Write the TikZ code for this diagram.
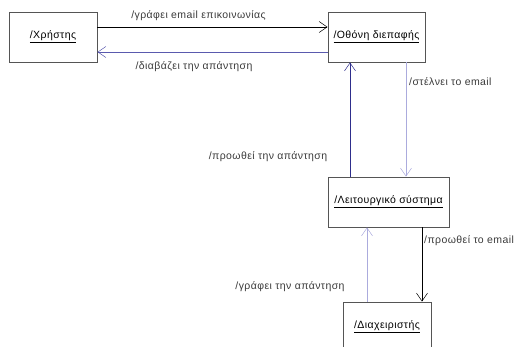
\documentclass[tikz,border=0pt]{standalone}
\usepackage{fontspec}
\setmainfont{Liberation Sans}[LetterSpace=4]
\usetikzlibrary{arrows.meta,shadows}
\definecolor{edgegray}{HTML}{555555}
\definecolor{msgblue}{HTML}{5A5AAE}
\definecolor{darkblue}{HTML}{2E2E8C}
\definecolor{paleblue}{HTML}{ABABDD}
\definecolor{labelgray}{HTML}{3A3A3A}
\tikzset{
  objbox/.style={draw=edgegray, line width=0.9pt, fill=white, inner sep=0pt,
    drop shadow={shadow xshift=1.2pt, shadow yshift=-1.2pt, fill=gray!45, opacity=1},
    font=\fontsize{10.5}{12}\selectfont},
  msg/.style={line width=0.7pt, -{Straight Barb[length=8pt,width=11pt,line width=0.5pt]}},
  lbl/.style={text=labelgray, inner sep=0pt, font=\fontsize{10.5}{12}\selectfont}
}
\begin{document}
\begin{tikzpicture}[x=1pt,y=-1pt]
  \useasboundingbox (0,0) rectangle (517,346);

  % objects
  \node[objbox, minimum width=88pt, minimum height=50pt] (user) at (53,37) {\underline{/Χρήστης}};
  \node[objbox, minimum width=97pt, minimum height=50pt] (screen) at (376.5,37) {\underline{/Οθόνη διεπαφής}};
  \node[objbox, minimum width=121pt, minimum height=50pt] (os) at (388.5,202) {\underline{/Λειτουργικό σύστημα}};
  \node[objbox, minimum width=88pt, minimum height=50pt] (admin) at (387,327) {\underline{/Διαχειριστής}};

  % anchor points of the messages
  \coordinate (u1) at (user.east |- 0,27);
  \coordinate (s1) at (screen.west |- 0,27);
  \coordinate (u2) at (user.east |- 0,52);
  \coordinate (s2) at (screen.west |- 0,52);
  \coordinate (s3) at (screen.south -| 406,0);
  \coordinate (o3) at (os.north -| 406,0);
  \coordinate (s4) at (screen.south -| 350,0);
  \coordinate (o4) at (os.north -| 350,0);
  \coordinate (o5) at (os.south -| 422,0);
  \coordinate (a5) at (admin.north -| 422,0);
  \coordinate (o6) at (os.south -| 367,0);
  \coordinate (a6) at (admin.north -| 367,0);

  % messages
  \draw[msg, black] (u1) -- (s1);
  \draw[msg, msgblue] (s2) -- (u2);
  \draw[msg, paleblue] (s3) -- (o3);
  \draw[msg, darkblue] (o4) -- (s4);
  \draw[msg, black] (o5) -- (a5);
  \draw[msg, paleblue] (a6) -- (o6);

  % message labels
  \node[lbl] (l1) at (198.5,16) {/γράφει email επικοινωνίας};
  \node[lbl] (l2) at (194,67) {/διαβάζει την απάντηση};
  \node[lbl, anchor=west] (l3) at (409,82) {/στέλνει το email};
  \node[lbl] (l4) at (268,157) {/προωθεί την απάντηση};
  \node[lbl, anchor=west] (l5) at (424,241) {/προωθεί το email};
  \node[lbl] (l6) at (290,287) {/γράφει την απάντηση};
\end{tikzpicture}
\end{document}
